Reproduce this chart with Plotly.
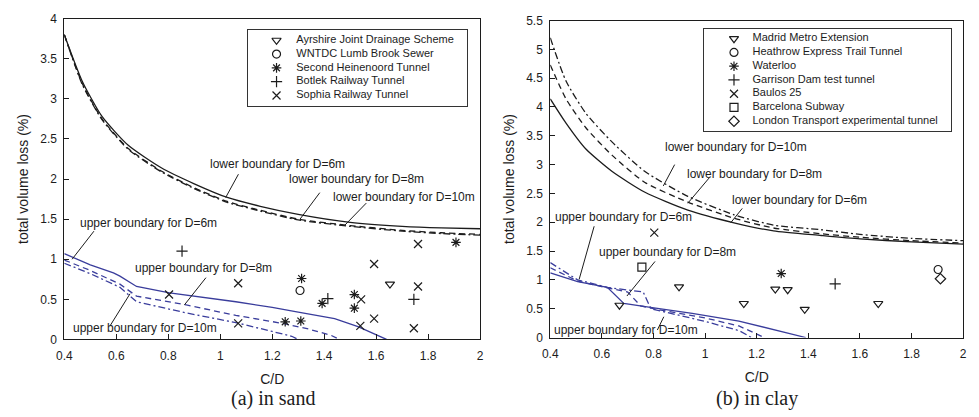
import plotly.graph_objects as go

# ---------------- data: (a) in sand ----------------
sand_lower_x = [0.4, 0.469, 0.545, 0.646, 0.773, 0.9, 1.027, 1.154, 1.3, 1.5, 1.7, 1.85, 2.0]
sand_lower_D6 = [3.80, 3.22, 2.78, 2.42, 2.14, 1.94, 1.77, 1.66, 1.56, 1.46, 1.41, 1.39, 1.38]
sand_lower_D8 = [3.80, 3.19, 2.75, 2.38, 2.10, 1.89, 1.72, 1.61, 1.50, 1.42, 1.36, 1.33, 1.31]
sand_lower_D10 = [3.80, 3.18, 2.74, 2.37, 2.09, 1.88, 1.71, 1.60, 1.49, 1.41, 1.35, 1.32, 1.30]

sand_upper_D6_x = [0.4, 0.5, 0.589, 0.614, 0.678, 0.805, 1.06, 1.2, 1.3, 1.44, 1.53, 1.605, 1.64]
sand_upper_D6_y = [1.07, 0.93, 0.83, 0.79, 0.66, 0.58, 0.47, 0.40, 0.34, 0.26, 0.16, 0.05, 0.0]
sand_upper_D8_x = [0.4, 0.5, 0.614, 0.678, 0.869, 1.06, 1.24, 1.34, 1.427, 1.46]
sand_upper_D8_y = [0.99, 0.86, 0.69, 0.54, 0.43, 0.30, 0.20, 0.13, 0.05, 0.0]
sand_upper_D10_x = [0.4, 0.5, 0.614, 0.678, 0.87, 1.06, 1.2, 1.275, 1.30]
sand_upper_D10_y = [0.95, 0.82, 0.65, 0.47, 0.33, 0.21, 0.10, 0.04, 0.0]

sand_names = ["Ayrshire Joint Drainage Scheme", "WNTDC Lumb Brook Sewer",
              "Second Heinenoord Tunnel", "Botlek Railway Tunnel", "Sophia Railway Tunnel"]
sand_symbols = ["triangle-down-open", "circle-open", "asterisk-open", "cross-thin-open", "x-thin-open"]
sand_x = [
    [1.653],
    [1.307],
    [1.313, 1.25, 1.31, 1.392, 1.516, 1.516, 1.907],
    [0.853, 1.414, 1.745],
    [0.803, 1.069, 1.069, 1.542, 1.539, 1.592, 1.592, 1.761, 1.761, 1.745],
]
sand_y = [
    [0.69],
    [0.61],
    [0.76, 0.22, 0.23, 0.45, 0.56, 0.39, 1.21],
    [1.10, 0.51, 0.50],
    [0.56, 0.70, 0.20, 0.50, 0.17, 0.94, 0.26, 1.19, 0.66, 0.14],
]

# ---------------- data: (b) in clay ----------------
clay_lower_x = [0.4, 0.461, 0.538, 0.64, 0.767, 0.933, 1.112, 1.265, 1.45, 1.6, 1.8, 2.0]
clay_lower_D6 = [4.14, 3.72, 3.27, 2.88, 2.52, 2.21, 1.99, 1.85, 1.77, 1.71, 1.66, 1.62]
clay_lower_D8 = [4.73, 4.14, 3.64, 3.16, 2.69, 2.35, 2.07, 1.90, 1.80, 1.74, 1.68, 1.64]
clay_lower_D10 = [5.20, 4.45, 3.89, 3.39, 2.88, 2.45, 2.13, 1.95, 1.87, 1.79, 1.72, 1.68]

clay_upper_D6_x = [0.4, 0.506, 0.621, 0.685, 0.775, 0.95, 1.131, 1.25, 1.39]
clay_upper_D6_y = [1.12, 0.97, 0.87, 0.59, 0.53, 0.42, 0.285, 0.16, 0.0]
clay_upper_D8_x = [0.4, 0.506, 0.621, 0.70, 0.75, 0.80, 1.0, 1.131, 1.23]
clay_upper_D8_y = [1.21, 0.98, 0.86, 0.79, 0.55, 0.50, 0.34, 0.20, 0.0]
clay_upper_D10_x = [0.4, 0.506, 0.621, 0.76, 0.79, 1.0, 1.131, 1.18]
clay_upper_D10_y = [1.30, 1.00, 0.87, 0.79, 0.50, 0.28, 0.12, 0.0]

clay_names = ["Madrid Metro Extension", "Heathrow Express Trail Tunnel", "Waterloo",
              "Garrison Dam test tunnel", "Baulos 25", "Barcelona Subway",
              "London Transport experimental tunnel"]
clay_symbols = ["triangle-down-open", "circle-open", "asterisk-open", "cross-thin-open",
                "x-thin-open", "square-open", "diamond-open"]
clay_x = [
    [0.668, 0.899, 1.150, 1.272, 1.320, 1.386, 1.671],
    [1.903],
    [1.295],
    [1.504],
    [0.803],
    [0.755],
    [1.912],
]
clay_y = [
    [0.56, 0.88, 0.59, 0.84, 0.83, 0.49, 0.59],
    [1.18],
    [1.11],
    [0.93],
    [1.82],
    [1.22],
    [1.02],
]

x_ticks = [0.4, 0.6, 0.8, 1.0, 1.2, 1.4, 1.6, 1.8, 2.0]
x_ticktext = ["0.4", "0.6", "0.8", "1", "1.2", "1.4", "1.6", "1.8", "2"]
sand_yticks = [0, 0.5, 1, 1.5, 2, 2.5, 3, 3.5, 4]
sand_yticktext = ["0", "0.5", "1", "1.5", "2", "2.5", "3", "3.5", "4"]
clay_yticks = [0, 0.5, 1, 1.5, 2, 2.5, 3, 3.5, 4, 4.5, 5, 5.5]
clay_yticktext = ["0", "0.5", "1", "1.5", "2", "2.5", "3", "3.5", "4", "4.5", "5", "5.5"]

# ---------------- styling ----------------
W, H = 979, 417
FONT = "Liberation Sans, Arial, Helvetica, sans-serif"
SERIF = "Liberation Serif, Times New Roman, serif"
INK = "#1c1c1c"
BLUE = "#3a3d9c"
DASH = "6px,4px"
DASHDOT = "7px,3px,2px,3px"

fig = go.Figure()


def curve(x, y, dash, color, xa, ya, smooth=False):
    line = dict(color=color, width=1.3, dash=dash)
    if smooth:
        line.update(shape="spline", smoothing=0.6)
    fig.add_trace(go.Scatter(x=x, y=y, mode="lines", xaxis=xa, yaxis=ya, showlegend=False,
                             line=line, hoverinfo="skip"))


# sand curves
curve(sand_lower_x, sand_lower_D6, "solid", INK, "x", "y", True)
curve(sand_lower_x, sand_lower_D8, DASH, INK, "x", "y", True)
curve(sand_lower_x, sand_lower_D10, DASHDOT, INK, "x", "y", True)
curve(sand_upper_D6_x, sand_upper_D6_y, "solid", BLUE, "x", "y")
curve(sand_upper_D8_x, sand_upper_D8_y, DASH, BLUE, "x", "y")
curve(sand_upper_D10_x, sand_upper_D10_y, DASHDOT, BLUE, "x", "y")

# clay curves
curve(clay_lower_x, clay_lower_D6, "solid", INK, "x2", "y2", True)
curve(clay_lower_x, clay_lower_D8, DASH, INK, "x2", "y2", True)
curve(clay_lower_x, clay_lower_D10, DASHDOT, INK, "x2", "y2", True)
curve(clay_upper_D6_x, clay_upper_D6_y, "solid", BLUE, "x2", "y2")
curve(clay_upper_D8_x, clay_upper_D8_y, DASH, BLUE, "x2", "y2")
curve(clay_upper_D10_x, clay_upper_D10_y, DASHDOT, BLUE, "x2", "y2")


def marker(sym):
    return dict(symbol=sym, size=8, color=INK, line=dict(color=INK, width=1.2))


for name, sym, xs, ys in zip(sand_names, sand_symbols, sand_x, sand_y):
    fig.add_trace(go.Scatter(x=xs, y=ys, mode="markers", name=name, marker=marker(sym),
                             xaxis="x", yaxis="y", showlegend=False))
for name, sym, xs, ys in zip(clay_names, clay_symbols, clay_x, clay_y):
    fig.add_trace(go.Scatter(x=xs, y=ys, mode="markers", name=name, marker=marker(sym),
                             xaxis="x2", yaxis="y2", showlegend=False))


# ---------------- boxed legends (drawn on small framed axes) ----------------
def legend_box(names, symbols, xa, ya, mx, tx):
    n = len(names)
    rows = [n - 1 - i for i in range(n)]
    for nm, sym, r in zip(names, symbols, rows):
        fig.add_trace(go.Scatter(x=[mx], y=[r], mode="markers", marker=marker(sym),
                                 xaxis=xa, yaxis=ya, showlegend=False, hoverinfo="skip"))
    fig.add_trace(go.Scatter(x=[tx] * n, y=rows, mode="text", text=names,
                             textposition="middle right",
                             textfont=dict(family=FONT, size=11, color=INK),
                             xaxis=xa, yaxis=ya, showlegend=False, hoverinfo="skip"))


legend_box(sand_names, sand_symbols, "x3", "y3", 0.13, 0.22)
legend_box(clay_names, clay_symbols, "x4", "y4", 0.12, 0.195)

# ---------------- annotations ----------------
ann = []
shapes = []


def label(text, x, y, xref, yref, x0, y0, x1, y1):
    ann.append(dict(text=text, x=x, y=y, xref=xref, yref=yref, showarrow=False,
                    font=dict(family=FONT, size=12, color=INK)))
    shapes.append(dict(type="line", xref=xref, yref=yref, x0=x0, y0=y0, x1=x1, y1=y1,
                       line=dict(color=INK, width=1)))


# sand
label("lower boundary for D=6m", 1.219, 2.19, "x", "y", 1.07, 2.06, 1.021, 1.77)
label("lower boundary for D=8m", 1.524, 2.00, "x", "y", 1.383, 1.83, 1.307, 1.50)
label("lower boundary for D=10m", 1.707, 1.77, "x", "y", 1.562, 1.70, 1.478, 1.42)
label("upper boundary for D=6m", 0.724, 1.45, "x", "y", 0.514, 1.35, 0.43, 1.0)
label("upper boundary for D=8m", 0.937, 0.89, "x", "y", 0.945, 0.77, 0.862, 0.43)
label("upper boundary for D=10m", 0.709, 0.145, "x", "y", 0.576, 0.17, 0.653, 0.57)
# clay
label("lower boundary for D=10m", 1.119, 3.30, "x2", "y2", 0.882, 3.00, 0.838, 2.63)
label("lower boundary for D=8m", 1.192, 2.83, "x2", "y2", 1.016, 2.77, 0.933, 2.33)
label("lower boundary for D=6m", 1.365, 2.38, "x2", "y2", 1.144, 2.24, 1.099, 1.99)
label("upper boundary for D=6m", 0.683, 2.09, "x2", "y2", 0.570, 1.93, 0.512, 1.01)
label("upper boundary for D=8m", 0.855, 1.49, "x2", "y2", 0.806, 1.32, 0.697, 0.72)
label("upper boundary for D=10m", 0.695, 0.13, "x2", "y2", 0.815, 0.13, 0.84, 0.36)

# sub-captions
for txt, cx in (("(a) in sand", 268), ("(b) in clay", 758)):
    ann.append(dict(text=txt, x=cx / W, y=1 - 405 / H, xref="paper", yref="paper",
                    xanchor="center", yanchor="middle", showarrow=False,
                    font=dict(family=SERIF, size=20, color=INK)))

axis_common = dict(showline=True, mirror=True, linecolor=INK, linewidth=1,
                   ticks="inside", ticklen=5, tickcolor=INK, showgrid=False, zeroline=False,
                   tickfont=dict(family=FONT, size=12, color=INK))
title_font = dict(family=FONT, size=14, color=INK)

legend_axis = dict(showline=True, mirror=True, linecolor="#333", linewidth=1.2,
                   showticklabels=False, ticks="", showgrid=False, zeroline=False,
                   fixedrange=True)

fig.update_layout(
    width=W, height=H,
    margin=dict(l=0, r=0, t=0, b=0),
    paper_bgcolor="white", plot_bgcolor="white",
    font=dict(family=FONT, color=INK),
    xaxis=dict(domain=[57 / W, 478 / W], range=[0.4, 2.0], tickvals=x_ticks, ticktext=x_ticktext,
               anchor="y", ticklabelstandoff=5,
               title=dict(text="C/D", font=title_font, standoff=12), **axis_common),
    yaxis=dict(domain=[1 - 344 / H, 1 - 12 / H], range=[0, 4], tickvals=sand_yticks,
               ticktext=sand_yticktext, anchor="x", ticklabelstandoff=4,
               title=dict(text="total volume loss (%)", font=title_font, standoff=8), **axis_common),
    xaxis2=dict(domain=[549 / W, 967 / W], range=[0.4, 2.0], tickvals=x_ticks, ticktext=x_ticktext,
                anchor="y2", ticklabelstandoff=5,
                title=dict(text="C/D", font=title_font, standoff=12), **axis_common),
    yaxis2=dict(domain=[1 - 342 / H, 1 - 14 / H], range=[0, 5.5], tickvals=clay_yticks,
                ticktext=clay_yticktext, anchor="x2", ticklabelstandoff=4,
                title=dict(text="total volume loss (%)", font=title_font, standoff=8), **axis_common),
    xaxis3=dict(domain=[243 / W, 465 / W], range=[0, 1], anchor="y3", **legend_axis),
    yaxis3=dict(domain=[1 - 102 / H, 1 - 24 / H], range=[-0.73, 4.73], anchor="x3", **legend_axis),
    xaxis4=dict(domain=[705 / W, 955 / W], range=[0, 1], anchor="y4", **legend_axis),
    yaxis4=dict(domain=[1 - 128 / H, 1 - 23 / H], range=[-0.69, 6.69], anchor="x4", **legend_axis),
    annotations=ann,
    shapes=shapes,
    showlegend=False,
)

fig.write_html("out.html")
